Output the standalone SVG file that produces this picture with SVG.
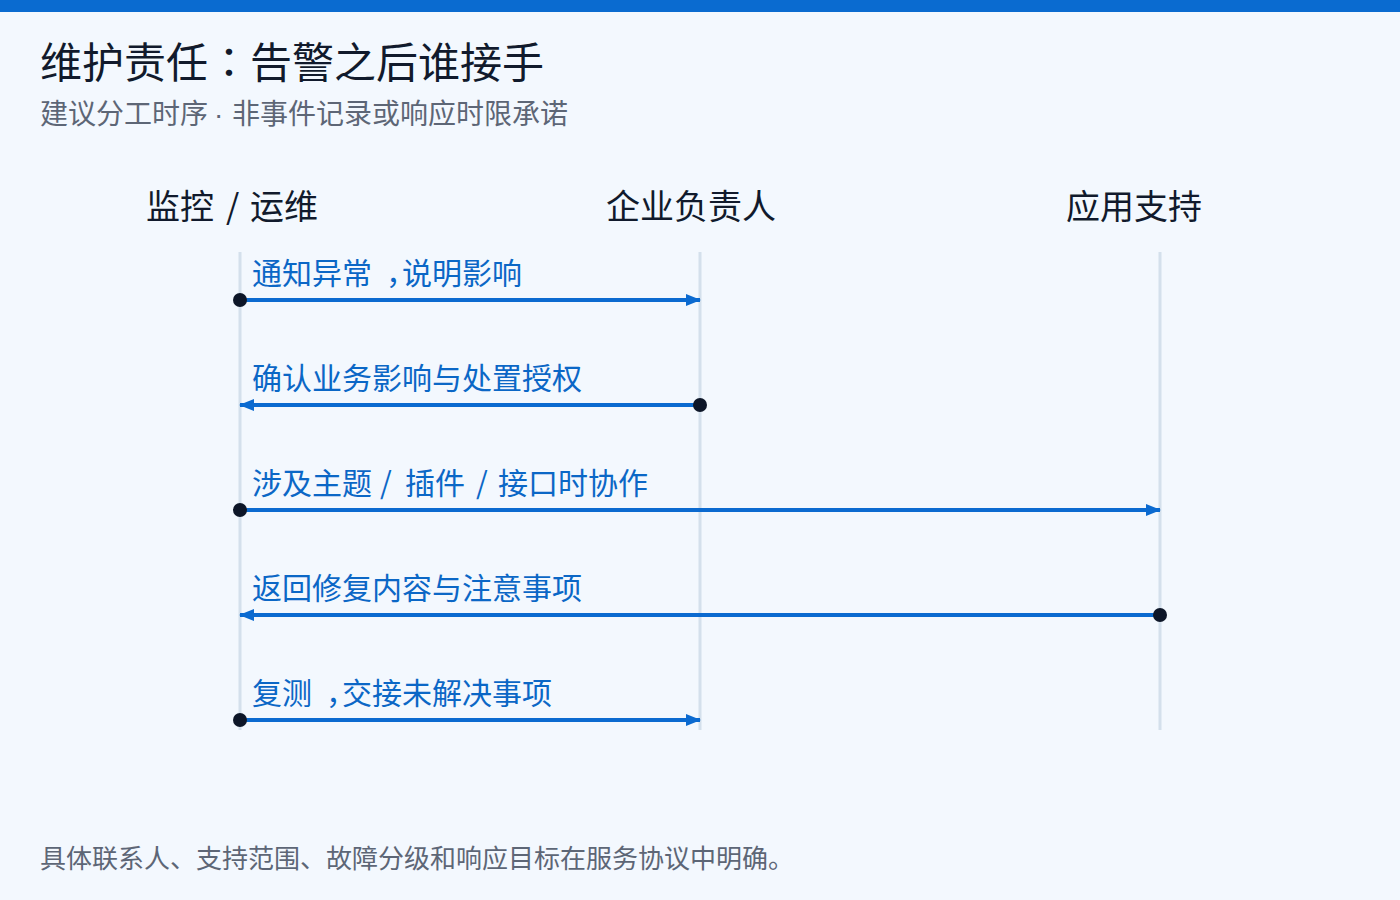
<svg xmlns="http://www.w3.org/2000/svg" width="1400" height="900" viewBox="0 0 1400 900">
  <defs>
    <style>
      text { font-family: "Noto Sans CJK SC", sans-serif; }
      .title { font-size: 42px; fill: #111a2c; }
      .sub { font-size: 28px; fill: #5d6676; }
      .actor { font-size: 34px; fill: #111a2c; }
      .msg { font-size: 30px; fill: #0b67c6; }
      .foot { font-size: 26px; fill: #5d6676; }
      .p { font-family: "Noto Sans CJK TC", sans-serif; }
      .lat { font-family: "Liberation Sans", sans-serif; }
      .life { stroke: #d4e0ec; stroke-width: 3; fill: none; }
      .arrow { stroke: #0b6ad0; stroke-width: 4; fill: none; }
      .dot { fill: #0d1628; }
      .head { fill: #0b6ad0; }
    </style>
  </defs>
  <rect x="0" y="0" width="1400" height="900" fill="#f3f8fe"/>
  <rect x="0" y="0" width="1400" height="12" fill="#0a6bd0"/>

  <text class="title" x="40" y="78">维护责任<tspan class="p">：</tspan>告警之后谁接手</text>
  <text class="sub" x="40" y="124">建议分工时序<tspan class="lat" x="214">·</tspan><tspan x="232">非事件记录或响应时限承诺</tspan></text>

  <g id="actor-ops">
    <text class="actor" x="146" y="219">监控<tspan x="226">/</tspan><tspan x="250">运维</tspan></text>
    <line class="life" x1="240" y1="252" x2="240" y2="730"/>
  </g>
  <g id="actor-owner">
    <text class="actor" x="606" y="219">企业负责人</text>
    <line class="life" x1="700" y1="252" x2="700" y2="730"/>
  </g>
  <g id="actor-support">
    <text class="actor" x="1066" y="219">应用支持</text>
    <line class="life" x1="1160" y1="252" x2="1160" y2="730"/>
  </g>

  <g id="connectors">
    <g id="m1">
      <line class="arrow" x1="240" y1="300" x2="700" y2="300"/>
      <polygon class="head" points="701,300 686,294 686,306"/>
      <circle class="dot" cx="240" cy="300" r="7"/>
      <text class="msg" x="252" y="284">通知异常<tspan dx="14">，</tspan><tspan dx="-14">说明影响</tspan></text>
    </g>
    <g id="m2">
      <line class="arrow" x1="240" y1="405" x2="700" y2="405"/>
      <polygon class="head" points="239,405 254,399 254,411"/>
      <circle class="dot" cx="700" cy="405" r="7"/>
      <text class="msg" x="252" y="389">确认业务影响与处置授权</text>
    </g>
    <g id="m3">
      <line class="arrow" x1="240" y1="510" x2="1160" y2="510"/>
      <polygon class="head" points="1161,510 1146,504 1146,516"/>
      <circle class="dot" cx="240" cy="510" r="7"/>
      <text class="msg" x="252" y="494">涉及主题<tspan x="380">/</tspan><tspan x="405">插件</tspan><tspan x="476">/</tspan><tspan x="498">接口时协作</tspan></text>
    </g>
    <g id="m4">
      <line class="arrow" x1="240" y1="615" x2="1160" y2="615"/>
      <polygon class="head" points="239,615 254,609 254,621"/>
      <circle class="dot" cx="1160" cy="615" r="7"/>
      <text class="msg" x="252" y="599">返回修复内容与注意事项</text>
    </g>
    <g id="m5">
      <line class="arrow" x1="240" y1="720" x2="700" y2="720"/>
      <polygon class="head" points="701,720 686,714 686,726"/>
      <circle class="dot" cx="240" cy="720" r="7"/>
      <text class="msg" x="252" y="704">复测<tspan dx="14">，</tspan><tspan dx="-14">交接未解决事项</tspan></text>
    </g>
  </g>

  <text class="foot" x="40" y="868">具体联系人、支持范围、故障分级和响应目标在服务协议中明确。</text>
</svg>
